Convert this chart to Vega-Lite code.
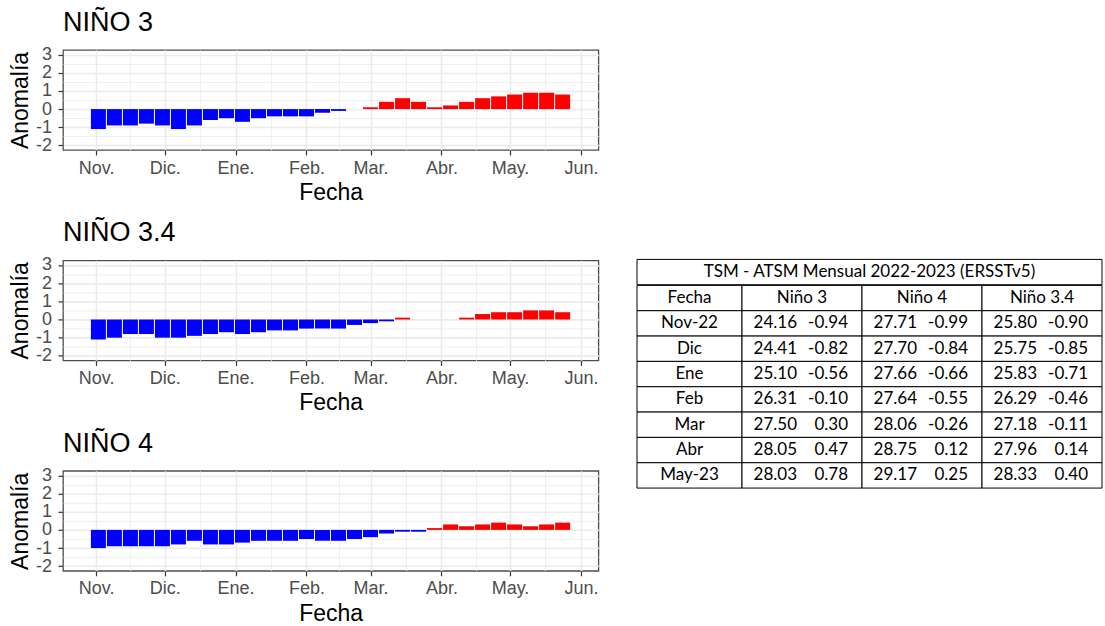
{
  "$schema": "https://vega.github.io/schema/vega-lite/v6.json",
  "padding": {"left": 8, "top": 8, "right": 0, "bottom": 0},
  "datasets": {
    "nino3": [
      {"fecha": "2022-11-02", "anomalia": -1.1}, {"fecha": "2022-11-09", "anomalia": -0.9}, {"fecha": "2022-11-16", "anomalia": -0.9}, {"fecha": "2022-11-23", "anomalia": -0.8}, {"fecha": "2022-11-30", "anomalia": -0.9},
      {"fecha": "2022-12-07", "anomalia": -1.1}, {"fecha": "2022-12-14", "anomalia": -0.9}, {"fecha": "2022-12-21", "anomalia": -0.6}, {"fecha": "2022-12-28", "anomalia": -0.5},
      {"fecha": "2023-01-04", "anomalia": -0.7}, {"fecha": "2023-01-11", "anomalia": -0.5}, {"fecha": "2023-01-18", "anomalia": -0.4}, {"fecha": "2023-01-25", "anomalia": -0.4},
      {"fecha": "2023-02-01", "anomalia": -0.4}, {"fecha": "2023-02-08", "anomalia": -0.2}, {"fecha": "2023-02-15", "anomalia": -0.1}, {"fecha": "2023-02-22", "anomalia": 0.0},
      {"fecha": "2023-03-01", "anomalia": 0.1}, {"fecha": "2023-03-08", "anomalia": 0.4}, {"fecha": "2023-03-15", "anomalia": 0.6}, {"fecha": "2023-03-22", "anomalia": 0.4}, {"fecha": "2023-03-29", "anomalia": 0.1},
      {"fecha": "2023-04-05", "anomalia": 0.2}, {"fecha": "2023-04-12", "anomalia": 0.4}, {"fecha": "2023-04-19", "anomalia": 0.6}, {"fecha": "2023-04-26", "anomalia": 0.7},
      {"fecha": "2023-05-03", "anomalia": 0.8}, {"fecha": "2023-05-10", "anomalia": 0.9}, {"fecha": "2023-05-17", "anomalia": 0.9}, {"fecha": "2023-05-24", "anomalia": 0.8}
    ],
    "nino34": [
      {"fecha": "2022-11-02", "anomalia": -1.1}, {"fecha": "2022-11-09", "anomalia": -1.0}, {"fecha": "2022-11-16", "anomalia": -0.8}, {"fecha": "2022-11-23", "anomalia": -0.8}, {"fecha": "2022-11-30", "anomalia": -1.0},
      {"fecha": "2022-12-07", "anomalia": -1.0}, {"fecha": "2022-12-14", "anomalia": -0.9}, {"fecha": "2022-12-21", "anomalia": -0.8}, {"fecha": "2022-12-28", "anomalia": -0.7},
      {"fecha": "2023-01-04", "anomalia": -0.8}, {"fecha": "2023-01-11", "anomalia": -0.7}, {"fecha": "2023-01-18", "anomalia": -0.6}, {"fecha": "2023-01-25", "anomalia": -0.6},
      {"fecha": "2023-02-01", "anomalia": -0.5}, {"fecha": "2023-02-08", "anomalia": -0.5}, {"fecha": "2023-02-15", "anomalia": -0.5}, {"fecha": "2023-02-22", "anomalia": -0.3},
      {"fecha": "2023-03-01", "anomalia": -0.2}, {"fecha": "2023-03-08", "anomalia": -0.1}, {"fecha": "2023-03-15", "anomalia": 0.1}, {"fecha": "2023-03-22", "anomalia": 0.0}, {"fecha": "2023-03-29", "anomalia": 0.0},
      {"fecha": "2023-04-05", "anomalia": 0.0}, {"fecha": "2023-04-12", "anomalia": 0.1}, {"fecha": "2023-04-19", "anomalia": 0.3}, {"fecha": "2023-04-26", "anomalia": 0.4},
      {"fecha": "2023-05-03", "anomalia": 0.4}, {"fecha": "2023-05-10", "anomalia": 0.5}, {"fecha": "2023-05-17", "anomalia": 0.5}, {"fecha": "2023-05-24", "anomalia": 0.4}
    ],
    "nino4": [
      {"fecha": "2022-11-02", "anomalia": -1.0}, {"fecha": "2022-11-09", "anomalia": -0.9}, {"fecha": "2022-11-16", "anomalia": -0.9}, {"fecha": "2022-11-23", "anomalia": -0.9}, {"fecha": "2022-11-30", "anomalia": -0.9},
      {"fecha": "2022-12-07", "anomalia": -0.8}, {"fecha": "2022-12-14", "anomalia": -0.6}, {"fecha": "2022-12-21", "anomalia": -0.8}, {"fecha": "2022-12-28", "anomalia": -0.8},
      {"fecha": "2023-01-04", "anomalia": -0.7}, {"fecha": "2023-01-11", "anomalia": -0.6}, {"fecha": "2023-01-18", "anomalia": -0.6}, {"fecha": "2023-01-25", "anomalia": -0.6},
      {"fecha": "2023-02-01", "anomalia": -0.5}, {"fecha": "2023-02-08", "anomalia": -0.6}, {"fecha": "2023-02-15", "anomalia": -0.6}, {"fecha": "2023-02-22", "anomalia": -0.5},
      {"fecha": "2023-03-01", "anomalia": -0.4}, {"fecha": "2023-03-08", "anomalia": -0.2}, {"fecha": "2023-03-15", "anomalia": -0.1}, {"fecha": "2023-03-22", "anomalia": -0.1}, {"fecha": "2023-03-29", "anomalia": 0.1},
      {"fecha": "2023-04-05", "anomalia": 0.3}, {"fecha": "2023-04-12", "anomalia": 0.2}, {"fecha": "2023-04-19", "anomalia": 0.3}, {"fecha": "2023-04-26", "anomalia": 0.4},
      {"fecha": "2023-05-03", "anomalia": 0.3}, {"fecha": "2023-05-10", "anomalia": 0.2}, {"fecha": "2023-05-17", "anomalia": 0.3}, {"fecha": "2023-05-24", "anomalia": 0.4}
    ],
    "titulo": [{"texto": "TSM - ATSM Mensual 2022-2023 (ERSSTv5)"}],
    "col_fecha": [
      {"fila": "encabezado", "texto": "Fecha"},
      {"fila": "Nov-22", "texto": "Nov-22"},
      {"fila": "Dic", "texto": "Dic"},
      {"fila": "Ene", "texto": "Ene"},
      {"fila": "Feb", "texto": "Feb"},
      {"fila": "Mar", "texto": "Mar"},
      {"fila": "Abr", "texto": "Abr"},
      {"fila": "May-23", "texto": "May-23"}
    ],
    "encabezados": [
      {"fila": "encabezado", "columna": "Niño 3", "texto": "Niño 3"},
      {"fila": "encabezado", "columna": "Niño 4", "texto": "Niño 4"},
      {"fila": "encabezado", "columna": "Niño 3.4", "texto": "Niño 3.4"}
    ],
    "tabla": [
      {"fila": "Nov-22", "columna": "Niño 3", "tsm": 24.16, "atsm": -0.94},
      {"fila": "Nov-22", "columna": "Niño 4", "tsm": 27.71, "atsm": -0.99},
      {"fila": "Nov-22", "columna": "Niño 3.4", "tsm": 25.80, "atsm": -0.90},
      {"fila": "Dic", "columna": "Niño 3", "tsm": 24.41, "atsm": -0.82},
      {"fila": "Dic", "columna": "Niño 4", "tsm": 27.70, "atsm": -0.84},
      {"fila": "Dic", "columna": "Niño 3.4", "tsm": 25.75, "atsm": -0.85},
      {"fila": "Ene", "columna": "Niño 3", "tsm": 25.10, "atsm": -0.56},
      {"fila": "Ene", "columna": "Niño 4", "tsm": 27.66, "atsm": -0.66},
      {"fila": "Ene", "columna": "Niño 3.4", "tsm": 25.83, "atsm": -0.71},
      {"fila": "Feb", "columna": "Niño 3", "tsm": 26.31, "atsm": -0.10},
      {"fila": "Feb", "columna": "Niño 4", "tsm": 27.64, "atsm": -0.55},
      {"fila": "Feb", "columna": "Niño 3.4", "tsm": 26.29, "atsm": -0.46},
      {"fila": "Mar", "columna": "Niño 3", "tsm": 27.50, "atsm": 0.30},
      {"fila": "Mar", "columna": "Niño 4", "tsm": 28.06, "atsm": -0.26},
      {"fila": "Mar", "columna": "Niño 3.4", "tsm": 27.18, "atsm": -0.11},
      {"fila": "Abr", "columna": "Niño 3", "tsm": 28.05, "atsm": 0.47},
      {"fila": "Abr", "columna": "Niño 4", "tsm": 28.75, "atsm": 0.12},
      {"fila": "Abr", "columna": "Niño 3.4", "tsm": 27.96, "atsm": 0.14},
      {"fila": "May-23", "columna": "Niño 3", "tsm": 28.03, "atsm": 0.78},
      {"fila": "May-23", "columna": "Niño 4", "tsm": 29.17, "atsm": 0.25},
      {"fila": "May-23", "columna": "Niño 3.4", "tsm": 28.33, "atsm": 0.40}
    ]
  },
  "hconcat": [
    {
      "vconcat": [
        {
          "width": 535.4, "height": 100,
          "view": {"stroke": "#4d4d4d", "strokeWidth": 1.3},
          "title": {"text": "NIÑO 3"},
          "data": {"name": "nino3"},
          "mark": {"type": "bar", "size": 15},
          "encoding": {
            "x": {"field": "fecha", "type": "temporal", "scale": {"type": "utc", "domain": [{"year": 2022, "month": 10, "date": 19, "hours": 17, "utc": true}, {"year": 2023, "month": 6, "date": 6, "hours": 11, "utc": true}]},
              "axis": {"title": "Fecha", "values": [{"year": 2022, "month": 11, "date": 1, "utc": true}, {"year": 2022, "month": 11, "date": 16, "utc": true}, {"year": 2022, "month": 12, "date": 1, "utc": true}, {"year": 2022, "month": 12, "date": 16, "hours": 12, "utc": true}, {"year": 2023, "month": 1, "date": 1, "utc": true}, {"year": 2023, "month": 1, "date": 16, "hours": 12, "utc": true}, {"year": 2023, "month": 2, "date": 1, "utc": true}, {"year": 2023, "month": 2, "date": 15, "utc": true}, {"year": 2023, "month": 3, "date": 1, "utc": true}, {"year": 2023, "month": 3, "date": 16, "hours": 12, "utc": true}, {"year": 2023, "month": 4, "date": 1, "utc": true}, {"year": 2023, "month": 4, "date": 16, "utc": true}, {"year": 2023, "month": 5, "date": 1, "utc": true}, {"year": 2023, "month": 5, "date": 16, "hours": 12, "utc": true}, {"year": 2023, "month": 6, "date": 1, "utc": true}],
                "labelExpr": "utcdate(datum.value) === 1 ? ['Ene.','Feb.','Mar.','Abr.','May.','Jun.','Jul.','Ago.','Sep.','Oct.','Nov.','Dic.'][utcmonth(datum.value)] : ''",
                "gridWidth": {"condition": {"test": "utcdate(datum.value) !== 1", "value": 0.8}, "value": 1.6},
                "tickOpacity": {"condition": {"test": "utcdate(datum.value) !== 1", "value": 0}, "value": 1}}},
            "y": {"field": "anomalia", "type": "quantitative", "scale": {"domain": [-2.25, 3.25], "nice": false},
              "axis": {"title": "Anomalía", "values": [-2, -1.5, -1, -0.5, 0, 0.5, 1, 1.5, 2, 2.5, 3],
                "labelExpr": "datum.value % 1 === 0 ? '' + datum.value : ''",
                "gridWidth": {"condition": {"test": "datum.value % 1 !== 0", "value": 0.8}, "value": 1.6},
                "tickOpacity": {"condition": {"test": "datum.value % 1 !== 0", "value": 0}, "value": 1}}},
            "y2": {"datum": 0},
            "color": {"condition": {"test": "datum.anomalia < 0", "value": "#0000ff"}, "value": "#ff0000"}
          }
        },
        {
          "width": 535.4, "height": 100,
          "view": {"stroke": "#4d4d4d", "strokeWidth": 1.3},
          "title": {"text": "NIÑO 3.4"},
          "data": {"name": "nino34"},
          "mark": {"type": "bar", "size": 15},
          "encoding": {
            "x": {"field": "fecha", "type": "temporal", "scale": {"type": "utc", "domain": [{"year": 2022, "month": 10, "date": 19, "hours": 17, "utc": true}, {"year": 2023, "month": 6, "date": 6, "hours": 11, "utc": true}]},
              "axis": {"title": "Fecha", "values": [{"year": 2022, "month": 11, "date": 1, "utc": true}, {"year": 2022, "month": 11, "date": 16, "utc": true}, {"year": 2022, "month": 12, "date": 1, "utc": true}, {"year": 2022, "month": 12, "date": 16, "hours": 12, "utc": true}, {"year": 2023, "month": 1, "date": 1, "utc": true}, {"year": 2023, "month": 1, "date": 16, "hours": 12, "utc": true}, {"year": 2023, "month": 2, "date": 1, "utc": true}, {"year": 2023, "month": 2, "date": 15, "utc": true}, {"year": 2023, "month": 3, "date": 1, "utc": true}, {"year": 2023, "month": 3, "date": 16, "hours": 12, "utc": true}, {"year": 2023, "month": 4, "date": 1, "utc": true}, {"year": 2023, "month": 4, "date": 16, "utc": true}, {"year": 2023, "month": 5, "date": 1, "utc": true}, {"year": 2023, "month": 5, "date": 16, "hours": 12, "utc": true}, {"year": 2023, "month": 6, "date": 1, "utc": true}],
                "labelExpr": "utcdate(datum.value) === 1 ? ['Ene.','Feb.','Mar.','Abr.','May.','Jun.','Jul.','Ago.','Sep.','Oct.','Nov.','Dic.'][utcmonth(datum.value)] : ''",
                "gridWidth": {"condition": {"test": "utcdate(datum.value) !== 1", "value": 0.8}, "value": 1.6},
                "tickOpacity": {"condition": {"test": "utcdate(datum.value) !== 1", "value": 0}, "value": 1}}},
            "y": {"field": "anomalia", "type": "quantitative", "scale": {"domain": [-2.25, 3.25], "nice": false},
              "axis": {"title": "Anomalía", "values": [-2, -1.5, -1, -0.5, 0, 0.5, 1, 1.5, 2, 2.5, 3],
                "labelExpr": "datum.value % 1 === 0 ? '' + datum.value : ''",
                "gridWidth": {"condition": {"test": "datum.value % 1 !== 0", "value": 0.8}, "value": 1.6},
                "tickOpacity": {"condition": {"test": "datum.value % 1 !== 0", "value": 0}, "value": 1}}},
            "y2": {"datum": 0},
            "color": {"condition": {"test": "datum.anomalia < 0", "value": "#0000ff"}, "value": "#ff0000"}
          }
        },
        {
          "width": 535.4, "height": 100,
          "view": {"stroke": "#4d4d4d", "strokeWidth": 1.3},
          "title": {"text": "NIÑO 4"},
          "data": {"name": "nino4"},
          "mark": {"type": "bar", "size": 15},
          "encoding": {
            "x": {"field": "fecha", "type": "temporal", "scale": {"type": "utc", "domain": [{"year": 2022, "month": 10, "date": 19, "hours": 17, "utc": true}, {"year": 2023, "month": 6, "date": 6, "hours": 11, "utc": true}]},
              "axis": {"title": "Fecha", "values": [{"year": 2022, "month": 11, "date": 1, "utc": true}, {"year": 2022, "month": 11, "date": 16, "utc": true}, {"year": 2022, "month": 12, "date": 1, "utc": true}, {"year": 2022, "month": 12, "date": 16, "hours": 12, "utc": true}, {"year": 2023, "month": 1, "date": 1, "utc": true}, {"year": 2023, "month": 1, "date": 16, "hours": 12, "utc": true}, {"year": 2023, "month": 2, "date": 1, "utc": true}, {"year": 2023, "month": 2, "date": 15, "utc": true}, {"year": 2023, "month": 3, "date": 1, "utc": true}, {"year": 2023, "month": 3, "date": 16, "hours": 12, "utc": true}, {"year": 2023, "month": 4, "date": 1, "utc": true}, {"year": 2023, "month": 4, "date": 16, "utc": true}, {"year": 2023, "month": 5, "date": 1, "utc": true}, {"year": 2023, "month": 5, "date": 16, "hours": 12, "utc": true}, {"year": 2023, "month": 6, "date": 1, "utc": true}],
                "labelExpr": "utcdate(datum.value) === 1 ? ['Ene.','Feb.','Mar.','Abr.','May.','Jun.','Jul.','Ago.','Sep.','Oct.','Nov.','Dic.'][utcmonth(datum.value)] : ''",
                "gridWidth": {"condition": {"test": "utcdate(datum.value) !== 1", "value": 0.8}, "value": 1.6},
                "tickOpacity": {"condition": {"test": "utcdate(datum.value) !== 1", "value": 0}, "value": 1}}},
            "y": {"field": "anomalia", "type": "quantitative", "scale": {"domain": [-2.25, 3.25], "nice": false},
              "axis": {"title": "Anomalía", "values": [-2, -1.5, -1, -0.5, 0, 0.5, 1, 1.5, 2, 2.5, 3],
                "labelExpr": "datum.value % 1 === 0 ? '' + datum.value : ''",
                "gridWidth": {"condition": {"test": "datum.value % 1 !== 0", "value": 0.8}, "value": 1.6},
                "tickOpacity": {"condition": {"test": "datum.value % 1 !== 0", "value": 0}, "value": 1}}},
            "y2": {"datum": 0},
            "color": {"condition": {"test": "datum.anomalia < 0", "value": "#0000ff"}, "value": "#ff0000"}
          }
        }
      ],
      "bounds": "flush",
      "spacing": 110.4
    },
    {
      "vconcat": [
        {
          "width": 465, "height": 98.5,
          "data": {"values": [{}]},
          "mark": {"type": "rect", "opacity": 0},
          "encoding": {}
        },
        {
          "vconcat": [
            {
              "width": 465, "height": 25.33,
              "data": {"name": "titulo"},
              "layer": [
                {"mark": {"type": "rect", "fill": "#ffffff", "stroke": "#000000", "strokeWidth": 1}, "encoding": {}},
                {"mark": {"type": "text", "font": "Lato", "fontSize": 17, "color": "#000000"}, "encoding": {"text": {"field": "texto"}}}
              ]
            },
            {
              "hconcat": [
                {
                  "width": 105, "height": 202.67,
                  "data": {"name": "col_fecha"},
                  "encoding": {
                    "y": {"field": "fila", "type": "nominal", "axis": null,
                      "scale": {"type": "band", "domain": ["encabezado", "Nov-22", "Dic", "Ene", "Feb", "Mar", "Abr", "May-23"], "paddingInner": 0, "paddingOuter": 0}}
                  },
                  "layer": [
                    {"mark": {"type": "rect", "fill": "#ffffff", "stroke": "#000000", "strokeWidth": 1}},
                    {"mark": {"type": "text", "font": "Lato", "fontSize": 17, "color": "#000000"}, "encoding": {"text": {"field": "texto"}}}
                  ]
                },
                {
                  "width": 360, "height": 202.67,
                  "encoding": {
                    "y": {"field": "fila", "type": "nominal", "axis": null,
                      "scale": {"type": "band", "domain": ["encabezado", "Nov-22", "Dic", "Ene", "Feb", "Mar", "Abr", "May-23"], "paddingInner": 0, "paddingOuter": 0}},
                    "x": {"field": "columna", "type": "nominal", "axis": null,
                      "scale": {"type": "band", "domain": ["Niño 3", "Niño 4", "Niño 3.4"], "paddingInner": 0, "paddingOuter": 0}}
                  },
                  "layer": [
                    {"data": {"name": "encabezados"}, "mark": {"type": "rect", "fill": "#ffffff", "stroke": "#000000", "strokeWidth": 1}},
                    {"data": {"name": "encabezados"}, "mark": {"type": "text", "font": "Lato", "fontSize": 17, "color": "#000000"}, "encoding": {"text": {"field": "texto"}}},
                    {"data": {"name": "tabla"}, "mark": {"type": "rect", "fill": "#ffffff", "stroke": "#000000", "strokeWidth": 1}},
                    {"data": {"name": "tabla"}, "mark": {"type": "text", "font": "Lato", "fontSize": 17, "color": "#000000", "align": "right", "dx": -5},
                      "encoding": {"text": {"field": "tsm", "format": ".2f"}}},
                    {"data": {"name": "tabla"}, "mark": {"type": "text", "font": "Lato", "fontSize": 17, "color": "#000000", "align": "right", "dx": 46},
                      "encoding": {"text": {"field": "atsm", "format": ".2f"}}}
                  ]
                }
              ],
              "bounds": "flush",
              "spacing": 0
            }
          ],
          "bounds": "flush",
          "spacing": 0
        }
      ],
      "bounds": "flush",
      "spacing": 110.4
    }
  ],
  "spacing": 36,
  "config": {
    "view": {"stroke": null},
    "locale": {"number": {"decimal": ".", "thousands": ",", "grouping": [3], "currency": ["$", ""], "minus": "-"}},
    "axis": {"labelFont": "Liberation Sans", "titleFont": "Liberation Sans", "labelFontSize": 18, "titleFontSize": 23, "labelColor": "#4d4d4d", "titleColor": "#000000", "titleFontWeight": "normal", "tickColor": "#333333", "tickSize": 5, "tickWidth": 1.2, "domain": false, "gridColor": "#ebebeb", "labelOverlap": false, "labelFlush": false},
    "axisX": {"labelPadding": 4, "titlePadding": 4.4},
    "axisY": {"labelPadding": 6.5, "titlePadding": 3},
    "title": {"anchor": "start", "frame": "group", "fontSize": 27, "font": "Liberation Sans", "fontWeight": "normal", "color": "#000000", "baseline": "alphabetic", "offset": 8.7}
  }
}
